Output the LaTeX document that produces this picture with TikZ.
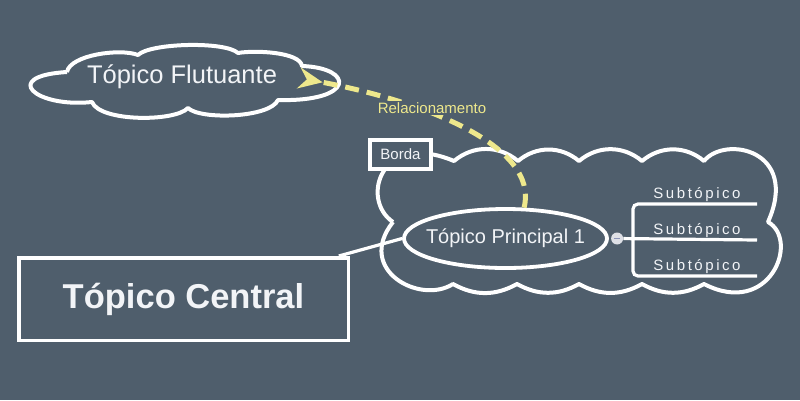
\documentclass[tikz,border=0pt]{standalone}
\usepackage{fontspec}
\setmainfont{Liberation Sans}
\usetikzlibrary{positioning}
\usetikzlibrary{shapes.geometric}
\usetikzlibrary{arrows.meta}
\definecolor{bgcol}{RGB}{79,94,108}
\definecolor{txtcol}{RGB}{242,244,247}
\definecolor{relcol}{RGB}{238,232,140}
\definecolor{foldcol}{RGB}{222,224,230}
\definecolor{minuscol}{RGB}{140,148,184}

\begin{document}
\begin{tikzpicture}[x=1pt, y=-1pt,
centralbox/.style={rectangle, draw=white, line width=3.5pt, minimum width=329.5pt, minimum height=82.5pt, text=txtcol, font=\fontsize{34.5}{40}\selectfont\bfseries},
mainnode/.style={ellipse, draw=white, line width=3.8pt, minimum width=203pt, minimum height=59pt, inner xsep=-9pt, inner ysep=0pt, text=txtcol, font=\fontsize{20}{24}\selectfont},
floatnode/.style={text=txtcol, inner sep=0pt, font=\fontsize{25.5}{30}\selectfont},
bordabox/.style={rectangle, draw=white, fill=bgcol, line width=4pt, minimum width=61pt, minimum height=29pt, inner sep=0pt, text=txtcol, font=\fontsize{15}{18}\selectfont},
subnode/.style={text=txtcol, inner sep=0pt, font=\fontsize{15}{18}\selectfont\addfontfeatures{LetterSpace=17}},
foldnode/.style={circle, fill=foldcol, minimum size=12pt, inner sep=0pt},
rellabel/.style={fill=bgcol, text=relcol, inner sep=1pt, font=\fontsize{15}{18}\selectfont},
branch/.style={draw=white, line width=3.2pt},
cloudline/.style={draw=white, line width=4pt, line join=round},
relline/.style={draw=relcol, line width=5pt, dash pattern=on 14pt off 8pt}]
\fill[bgcol] (0,0) rectangle (800,400);
\useasboundingbox (0,0) rectangle (800,400);

\draw[cloudline] (393,222) .. controls (360,200) and (380,130) .. (454,161)
  to[bend left=40] (518,161) to[bend left=40] (579,161) to[bend left=40] (642,161) to[bend left=40] (704,161)
  .. controls (725,135) and (800,150) .. (768,222)
  .. controls (800,240) and (770,318) .. (704,284)
  to[bend left=29] (642,284) to[bend left=29] (579,284) to[bend left=29] (517,284) to[bend left=29] (453,284)
  .. controls (420,305) and (355,270) .. (393,222);
\draw[cloudline] (67,72) .. controls (70,55) and (120,48) .. (138,55)
  .. controls (150,43) and (225,41) .. (238,53)
  .. controls (255,50) and (300,52) .. (302,66)
  .. controls (355,68) and (355,102) .. (278,100)
  .. controls (270,118) and (200,120) .. (188,108)
  .. controls (175,122) and (100,122) .. (92,102)
  .. controls (35,108) and (0,76) .. (67,72);

\node[centralbox] (central) at (183.5,299) {Tópico Central};
\node[mainnode] (tp1) at (505.5,238.5) {Tópico Principal 1};
\node[foldnode] (fold) [right=2pt of tp1] {\color{minuscol}\rule[-0.6pt]{6pt}{1.2pt}};
\node[floatnode] (flt) at (182,77) {Tópico Flutuante};
\node[bordabox] (borda) at (400.5,154.5) {Borda};
\node[subnode] (sub1) at (697,195) {Subtópico};
\node[subnode] (sub2) at (697,231) {Subtópico};
\node[subnode] (sub3) at (697,267) {Subtópico};
\coordinate (fork) at (633,240);
\coordinate (s1e) at (757,204);
\coordinate (s2e) at (757,240);
\coordinate (s3e) at (757,276);
\coordinate (flt-end) at (299,78);

\draw[branch] (tp1.west) -- (central);
\draw[branch] (fold) -- (s2e);
\draw[branch, rounded corners=5pt] (fork) |- (s1e);
\draw[branch, rounded corners=5pt] (fork) |- (s3e);
\draw[relline, -{Stealth[reversed, length=24pt, width=21pt, inset=8pt]}] (tp1.59) .. controls (540,145) and (420,100) .. (flt-end);
\node[rellabel] (rel) at (432,108) {Relacionamento};
\end{tikzpicture}
\end{document}
